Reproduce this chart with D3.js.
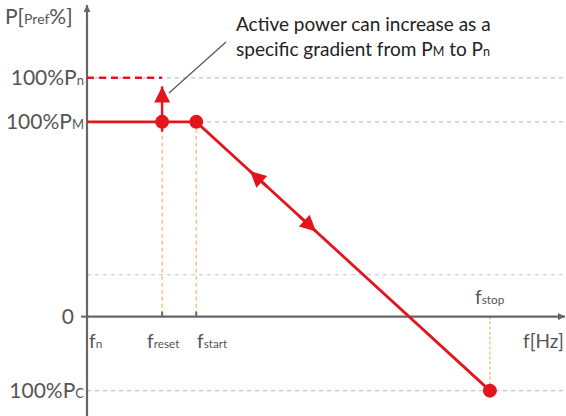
<!DOCTYPE html>
<html><head><meta charset="utf-8">
<script src="https://cdn.jsdelivr.net/npm/d3@7"></script>
<style>body{margin:0;background:#fff}svg{display:block}text{font-family:Lato,"Noto Sans",sans-serif}</style>
</head><body><svg id="c" width="566" height="416"></svg>
<script>
// Frequency markers (arbitrary x units)
const freqNames = ["fn","freset","fstart","fstop"];
const freqValues = [0, 2.2, 3.2, 11.8];
// Power levels (% of Pref)
const levelNames = ["100%Pn","100%PM","0","100%Pc"];
const levelValues = [122.6, 100, 0, -38];
const gridValues = [122.6, 100, 21.5, -38];
// Characteristic curve
const curveX = [0, 2.2, 3.2, 11.8];
const curveY = [100, 100, 100, -38];

const svg = d3.select("#c");
const x = d3.scaleLinear().domain([0, 14]).range([87, 565]);
const y = d3.scaleLinear().domain([-50, 160]).range([414, 5]);
const red = "#e3161d", gray = "#666", blue = "#b3c6e6", orange = "#f5b16a", txt = "#555";

const defs = svg.append("defs");
function marker(id, color, w, h){
  defs.append("marker").attr("id", id).attr("viewBox","0 0 10 10").attr("refX",10).attr("refY",5)
    .attr("markerWidth",w).attr("markerHeight",h).attr("markerUnits","userSpaceOnUse").attr("orient","auto")
    .append("path").attr("d","M0,0L10,5L0,10Z").attr("fill",color);
}
marker("ga", gray, 8, 7);
marker("ra", red, 22, 16);
marker("ra2", red, 21, 16);

// gridlines
svg.selectAll(".grid").data(gridValues).join("line")
  .attr("x1", x(0)).attr("x2", 565).attr("y1", d=>y(d)).attr("y2", d=>y(d))
  .attr("stroke", blue).attr("stroke-width",1.2).attr("stroke-dasharray","4,4");

// orange verticals
svg.append("line").attr("x1",x(freqValues[1])).attr("x2",x(freqValues[1])).attr("y1",y(100)+7).attr("y2",y(0)).attr("stroke",orange).attr("stroke-width",1.2).attr("stroke-dasharray","4,3");
svg.append("line").attr("x1",x(freqValues[2])).attr("x2",x(freqValues[2])).attr("y1",y(100)+7).attr("y2",y(0)).attr("stroke",orange).attr("stroke-width",1.2).attr("stroke-dasharray","4,3");
svg.append("line").attr("x1",x(freqValues[3])).attr("x2",x(freqValues[3])).attr("y1",y(0)).attr("y2",y(-38)).attr("stroke",orange).attr("stroke-width",1.2).attr("stroke-dasharray","3,2");

// axes
svg.append("line").attr("x1",x(0)).attr("x2",x(0)).attr("y1",416).attr("y2",y(160)).attr("stroke",gray).attr("stroke-width",2.2).attr("marker-end","url(#ga)");
svg.append("line").attr("x1",x(0)).attr("x2",565).attr("y1",y(0)).attr("y2",y(0)).attr("stroke",gray).attr("stroke-width",2.2).attr("marker-end","url(#ga)");
svg.append("line").attr("x1",x(0)-6).attr("x2",x(0)).attr("y1",y(0)).attr("y2",y(0)).attr("stroke",gray).attr("stroke-width",2);
[1,2].forEach(i=>svg.append("line").attr("x1",x(freqValues[i])).attr("x2",x(freqValues[i])).attr("y1",y(0)-5).attr("y2",y(0)).attr("stroke",gray).attr("stroke-width",2));

// dashed red Pn line
svg.append("line").attr("x1",x(0)).attr("x2",x(freqValues[1])).attr("y1",y(122.6)).attr("y2",y(122.6)).attr("stroke",red).attr("stroke-width",2.5).attr("stroke-dasharray","7,5");
// up arrow
svg.append("line").attr("x1",x(2.2)).attr("x2",x(2.2)).attr("y1",y(95)).attr("y2",y(118.2)).attr("stroke",red).attr("stroke-width",2.5).attr("marker-end","url(#ra2)");

// curve
const line = d3.line().x((d,i)=>x(curveX[i])).y((d,i)=>y(curveY[i]));
svg.append("path").attr("d", line(curveX)).attr("fill","none").attr("stroke",red).attr("stroke-width",2.8);
// double arrow on slope
function along(t){ return [x(3.2)+(x(11.8)-x(3.2))*t, y(100)+(y(-38)-y(100))*t]; }
const a1 = along(0.183), a2 = along(0.24), b1 = along(0.35), b2 = along(0.408);
svg.append("line").attr("x1",a2[0]).attr("y1",a2[1]).attr("x2",a1[0]).attr("y2",a1[1]).attr("stroke",red).attr("stroke-width",2.8).attr("marker-end","url(#ra)");
svg.append("line").attr("x1",b1[0]).attr("y1",b1[1]).attr("x2",b2[0]).attr("y2",b2[1]).attr("stroke",red).attr("stroke-width",2.8).attr("marker-end","url(#ra)");
// points
svg.selectAll(".pt").data([1,2,3]).join("circle")
  .attr("cx", i=>x(curveX[i])).attr("cy", i=>y(curveY[i])).attr("r",7).attr("fill",red);

// leader line
svg.append("line").attr("x1",169).attr("y1",93).attr("x2",226).attr("y2",42).attr("stroke","#555").attr("stroke-width",1.2);

// text helper with subscript
function label(xp, yp, main, sub, size, anchor){
  const t = svg.append("text").attr("x",xp).attr("y",yp).attr("fill",txt).attr("font-size",size).attr("text-anchor",anchor||"start");
  t.append("tspan").text(main);
  if (sub) t.append("tspan").attr("font-size",size*0.62).text(sub);
  return t;
}
// y labels
const yl = [["100%P","n"],["100%P","M"],["0",""],["100%P","C"]];
levelValues.forEach((v,i)=>label(i===2?74:84, y(v)+7, yl[i][0], yl[i][1], 21, "end"));
const ptitle = svg.append("text").attr("x",5).attr("y",24).attr("fill",txt).attr("font-size",21);
ptitle.append("tspan").text("P[");
ptitle.append("tspan").attr("font-size",14).text("Pref");
ptitle.append("tspan").text("%]");
// x labels
label(89, 348, "f", "n", 19);
label(147, 348, "f", "reset", 19);
label(197, 348, "f", "start", 19);
label(475, 304, "f", "stop", 19);
label(523, 348, "f[Hz]", "", 19);

// annotation
const ann = svg.append("text").attr("fill","#222").attr("font-size",19);
ann.append("tspan").attr("x",236).attr("y",31).text("Active power can increase as a");
const l2 = ann.append("tspan").attr("x",236).attr("y",56);
l2.append("tspan").text("specific gradient from P");
l2.append("tspan").attr("font-size",12.5).text("M");
l2.append("tspan").text(" to P");
l2.append("tspan").attr("font-size",12.5).text("n");
</script></body></html>
